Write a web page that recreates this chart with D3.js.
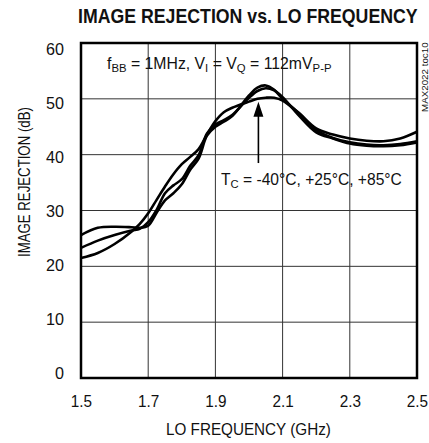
<!DOCTYPE html>
<html><head><meta charset="utf-8">
<script src="https://cdn.jsdelivr.net/npm/d3@7"></script>
<style>
html,body{margin:0;padding:0;background:#fff;}
svg{display:block;}
text{font-family:"Liberation Sans Narrow","Liberation Sans",Arial,sans-serif;fill:#111;}
</style></head>
<body>
<svg id="c" width="429" height="443"></svg>
<script>
// ---- data ----
const freq = [1.50,1.55,1.60,1.65,1.675,1.70,1.725,1.75,1.775,1.80,1.825,1.85,1.875,1.90,1.925,1.95,2.00,2.025,2.05,2.075,2.10,2.15,2.20,2.25,2.30,2.35,2.40,2.45,2.50];
const irMinus40 = [25.6,26.9,27.1,27.0,26.9,27.3,29.6,31.8,33.1,34.7,37.3,39.3,43.4,45.0,45.9,46.9,50.6,52.0,52.4,51.6,50.0,47.4,44.7,43.6,42.9,42.5,42.4,42.9,44.1];
const irPlus25  = [23.3,24.6,25.6,26.4,26.7,27.9,30.1,33.1,34.5,35.6,38.0,39.9,43.8,45.4,46.2,47.1,50.2,51.4,51.9,51.5,50.3,46.9,44.0,42.9,42.0,41.6,41.5,41.7,42.2];
const irPlus85  = [21.5,22.4,24.0,26.2,27.6,29.5,31.9,34.3,36.5,38.3,39.6,41.0,43.6,46.0,47.6,48.4,49.5,50.0,50.2,50.2,49.7,47.3,44.4,43.0,42.2,41.8,41.7,41.9,42.4];
const seriesList = [irMinus40, irPlus25, irPlus85];
const xTicks = [1.5,1.7,1.9,2.1,2.3,2.5];
const xTickLabels = ["1.5","1.7","1.9","2.1","2.3","2.5"];
const yTicks = [0,10,20,30,40,50,60];
const yTickLabels = ["0","10","20","30","40","50","60"];
const title = "IMAGE REJECTION vs. LO FREQUENCY";
const xTitle = "LO FREQUENCY (GHz)";
const yTitle = "IMAGE REJECTION (dB)";
const sideNote = "MAX2022 toc10";
const arrowFreq = 2.028, arrowTipDb = 49.5, arrowBaseDb = 38.5;

// ---- layout ----
const L=81, R=417, T=43, B=378;
const svg = d3.select("#c");
const x = d3.scaleLinear().domain([1.5,2.5]).range([L,R]);
const y = d3.scaleLinear().domain([0,60]).range([B,T]);
const yLab = d3.scaleLinear().domain([0,60]).range([373,49]);

function fit(sel, w){
  const bb = sel.node().getBBox();
  const s = w/bb.width, x0 = bb.x;
  sel.attr("transform", `translate(${x0},0) scale(${s},1) translate(${-x0},0)`);
}
function squeeze(sel, k, anchor){
  sel.each(function(){
    const bb = this.getBBox();
    const ox = anchor==="end" ? bb.x+bb.width : bb.x+bb.width/2;
    d3.select(this).attr("transform", `translate(${ox},0) scale(${k},1) translate(${-ox},0)`);
  });
}

// grid
const g = svg.append("g");
g.selectAll("line.v").data(xTicks.slice(1,-1)).join("line")
  .attr("x1",d=>x(d)).attr("x2",d=>x(d)).attr("y1",T).attr("y2",B)
  .attr("stroke","#333").attr("stroke-width",1);
g.selectAll("line.h").data(yTicks.slice(1,-1)).join("line")
  .attr("y1",d=>y(d)).attr("y2",d=>y(d)).attr("x1",L).attr("x2",R)
  .attr("stroke","#333").attr("stroke-width",1);

// curves
const line = d3.line().x((d,i)=>x(freq[i])).y(d=>y(d)).curve(d3.curveCatmullRom.alpha(0.5));
svg.append("g").selectAll("path").data(seriesList).join("path")
  .attr("d",line).attr("fill","none").attr("stroke","#000").attr("stroke-width",2.6)
  .attr("stroke-linejoin","round");

// frame
svg.append("rect").attr("x",L).attr("y",T).attr("width",R-L).attr("height",B-T)
  .attr("fill","none").attr("stroke","#000").attr("stroke-width",2.5);

// axes
const xa = svg.append("g").attr("transform",`translate(0,${B})`)
  .call(d3.axisBottom(x).tickValues(xTicks).tickFormat((d,i)=>xTickLabels[i]).tickSize(0).tickPadding(16.5));
xa.select(".domain").remove();
xa.selectAll("text").attr("font-size",17).attr("font-family",null).attr("fill","#111");
squeeze(xa.selectAll("text"),0.9,"middle");
const ya = svg.append("g").attr("transform",`translate(64,0)`)
  .call(d3.axisLeft(yLab).tickValues(yTicks).tickFormat((d,i)=>yTickLabels[i]).tickSize(0).tickPadding(0));
ya.select(".domain").remove();
ya.selectAll("text").attr("font-size",17).attr("font-family",null).attr("fill","#111");
squeeze(ya.selectAll("text"),0.95,"end");

// titles
const tt = svg.append("text").attr("x",78).attr("y",23).attr("font-size",20.5).attr("font-weight","bold").text(title);
fit(tt,340);
const xt = svg.append("text").attr("x",166).attr("y",435).attr("font-size",17).text(xTitle);
fit(xt,165);
const yg = svg.append("g").attr("transform","translate(30,182) rotate(-90)");
const ytx = yg.append("text").attr("x",-75).attr("y",0).attr("font-size",17).text(yTitle);
fit(ytx,150);
const sg = svg.append("g").attr("transform","translate(427.5,112) rotate(-90)");
const stx = sg.append("text").attr("x",0).attr("y",0).attr("font-size",8.5).text(sideNote);
fit(stx,70);

// annotation 1
const a1 = svg.append("text").attr("x",107).attr("y",69).attr("font-size",16);
a1.append("tspan").text("f");
a1.append("tspan").attr("font-size",11.5).attr("dy",3).text("BB");
a1.append("tspan").attr("dy",-3).text(" = 1MHz, V");
a1.append("tspan").attr("font-size",11.5).attr("dy",3).text("I");
a1.append("tspan").attr("dy",-3).text(" = V");
a1.append("tspan").attr("font-size",11.5).attr("dy",3).text("Q");
a1.append("tspan").attr("dy",-3).text(" = 112mV");
a1.append("tspan").attr("font-size",11.5).attr("dy",3).text("P-P");
fit(a1,225);

// annotation 2
const a2 = svg.append("text").attr("x",221).attr("y",185).attr("font-size",16).text("T");
a2.append("tspan").attr("font-size",11.5).attr("dy",3).text("C");
a2.append("tspan").attr("dy",-3).text(" = -40°C, +25°C, +85°C");
fit(a2,181);

// arrow
const ax = x(arrowFreq), tipY = y(arrowTipDb), baseY = y(arrowBaseDb);
svg.append("line").attr("x1",ax).attr("x2",ax).attr("y1",baseY).attr("y2",tipY+12)
  .attr("stroke","#000").attr("stroke-width",1.6);
svg.append("path").attr("d",`M${ax},${tipY} L${ax-5},${tipY+15} L${ax+5},${tipY+15} Z`).attr("fill","#000");
</script>
</body></html>
